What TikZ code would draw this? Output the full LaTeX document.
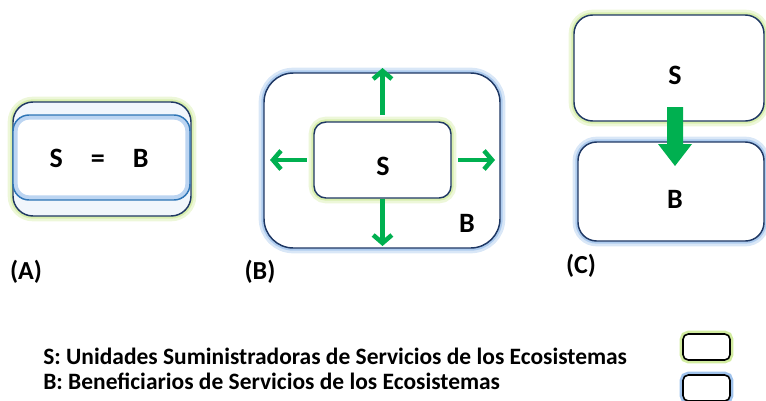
\documentclass[tikz,border=0pt]{standalone}
\usepackage{fontspec}
\setmainfont{Carlito}
\usepackage{xcolor}
\usetikzlibrary{arrows.meta, positioning}
\definecolor{ESNavy}{RGB}{31, 56, 100}
\definecolor{ESBlue}{RGB}{46, 117, 182}
\definecolor{ESGreen}{RGB}{0, 176, 80}
\definecolor{ESGlowGreen}{RGB}{210, 236, 160}
\definecolor{ESGlowBlue}{RGB}{160, 195, 236}
\definecolor{ESText}{RGB}{0, 0, 0}

\begin{document}
\begin{tikzpicture}[x=0.75pt, y=-0.75pt,
  sbox/.style={draw=ESNavy, line width=1.1pt, fill=white,
    preaction={draw=ESGlowGreen!40, line width=8pt},
    preaction={draw=ESGlowGreen!85, line width=4pt}},
  bbox/.style={draw=ESNavy, line width=1.1pt, fill=white,
    preaction={draw=ESGlowBlue!40, line width=8pt},
    preaction={draw=ESGlowBlue!85, line width=4pt}},
  lbl/.style={font=\fontsize{21}{23}\selectfont\bfseries, text=ESText},
  tag/.style={font=\fontsize{19.5}{21}\selectfont\bfseries, text=ESText},
  legend/.style={font=\fontsize{17.6}{20}\selectfont\bfseries, text=ESText, inner sep=0pt, anchor=west},
  keybox/.style={line width=1.2pt, rounded corners=4pt, minimum width=35.25pt, minimum height=19.5pt},
  flow/.style={ESGreen, line width=3.4pt, -{Straight Barb[length=6pt, width=14pt]}}
]
  \useasboundingbox (0,0) rectangle (766,400);

  % (A) S = B
  \node[sbox, fill=ESGlowBlue!15, rounded corners=15pt, minimum width=133.5pt, minimum height=85.5pt] (sA) at (102,159) {};
  \node[draw=ESBlue, line width=1.1pt, fill=white, rounded corners=12pt, minimum width=132.75pt, minimum height=63.75pt,
    path picture={\draw[ESGlowBlue!70, line width=7pt, rounded corners=12pt]
      (path picture bounding box.south west) rectangle (path picture bounding box.north east);}] (bA) at (101.5,157.5) {};
  \node[lbl] (eqA) at (99,158) {S\quad=\quad B};
  \node[tag] (tagA) at (26,272) {(A)};

  % (B) S inside B
  \node[bbox, rounded corners=22pt, minimum width=177pt, minimum height=131.25pt] (bB) at (382,160.5) {};
  \node[sbox, rounded corners=9pt, minimum width=102.75pt, minimum height=57pt] (sB) at (382.5,160) {};
  \node[lbl] (lblSB) at (383,166) {S};
  \node[lbl] (lblBB) at (467,223) {B};
  \coordinate (upB) at (382.5,68);
  \coordinate (downB) at (382.5,246);
  \coordinate (leftB) at (270,160);
  \coordinate (rightB) at (495,160);
  \draw[flow, shorten <=5pt] (sB.north) -- (upB);
  \draw[flow] (sB.south) -- (downB);
  \draw[flow, shorten <=5pt] (sB.west) -- (leftB);
  \draw[flow, shorten <=5pt] (sB.east) -- (rightB);
  \node[tag] (tagB) at (260,272) {(B)};

  % (C) S feeds B
  \node[sbox, rounded corners=14pt, minimum width=142.5pt, minimum height=79.5pt] (sC) at (669,68) {};
  \node[bbox, rounded corners=14pt, minimum width=139.5pt, minimum height=74.25pt] (bC) at (671,191.5) {};
  \node[lbl] (lblSC) at (675,75) {S};
  \node[lbl] (lblBC) at (675,199) {B};
  \fill[ESGreen] (667,107) -- (683,107) -- (683,144) -- (692,144) -- (675,166) -- (658,144) -- (667,144) -- cycle;
  \node[tag] (tagC) at (581,266) {(C)};

  % legend
  \node[legend] (keyS) at (43,356) {S: Unidades Suministradoras de Servicios de los Ecosistemas};
  \node[legend] (keyB) at (43,381) {B: Beneficiarios de Servicios de los Ecosistemas};
  \node[keybox, draw=black, fill=white, preaction={draw=ESGlowGreen, line width=5pt}] (keyboxS) at (706.5,347) {};
  \node[keybox, draw=black, fill=white, preaction={draw=ESGlowBlue, line width=5pt}] (keyboxB) at (706.5,388) {};
\end{tikzpicture}
\end{document}
